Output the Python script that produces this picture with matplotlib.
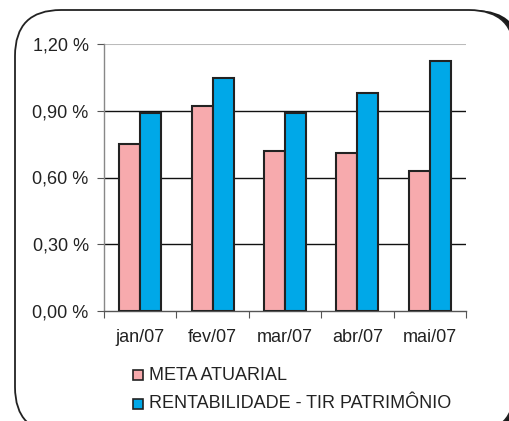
import matplotlib
matplotlib.use("Agg")
import matplotlib.pyplot as plt
import numpy as np
from matplotlib.patches import FancyBboxPatch, Rectangle

categories = ["jan/07", "fev/07", "mar/07", "abr/07", "mai/07"]
meta = [0.75, 0.92, 0.72, 0.71, 0.63]
rent = [0.89, 1.045, 0.89, 0.98, 1.125]
yticks = [0.0, 0.3, 0.6, 0.9, 1.2]
ytick_labels = ["0,00 %", "0,30 %", "0,60 %", "0,90 %", "1,20 %"]
series_names = ["META ATUARIAL", "RENTABILIDADE - TIR PATRIMÔNIO"]

plt.rcParams['font.family'] = ['Liberation Sans', 'DejaVu Sans']

W, H = 510, 421
fig = plt.figure(figsize=(W/100, H/100), dpi=100)
FS = 13

# rounded border with shadow
shadow = FancyBboxPatch((20/W, -16/H), 501/W, 427/H,
                        boxstyle="round,pad=0,rounding_size=0.09",
                        transform=fig.transFigure, facecolor='#1a1a1a', edgecolor='none',
                        mutation_aspect=W/H, zorder=0)
fig.patches.append(shadow)
border = FancyBboxPatch((15/W, -12/H), 500/W, 423/H,
                        boxstyle="round,pad=0,rounding_size=0.09",
                        transform=fig.transFigure, facecolor='white', edgecolor='#222222',
                        linewidth=1.3, mutation_aspect=W/H, zorder=1)
fig.patches.append(border)

ax = fig.add_axes([104/W, 1-311/H, (466-104)/W, (311-44)/H])
ax.set_zorder(2)
ax.patch.set_alpha(0)

x = np.arange(len(categories))
bw = 0.29
ax.bar(x - bw/2, meta, bw, color='#f7aaad', edgecolor='#222222', linewidth=1.5, zorder=3)
ax.bar(x + bw/2, rent, bw, color='#00a8e8', edgecolor='#222222', linewidth=1.5, zorder=3)

ax.set_xlim(-0.5, len(categories) - 0.5)
ax.set_ylim(0, 1.2)
ax.set_yticks(yticks)
ax.set_yticklabels(ytick_labels, fontsize=FS, color='#222222')
for yv in yticks[1:-1]:
    ax.axhline(yv, color='#111111', linewidth=1.0, zorder=1)
ax.axhline(1.2, color='#bbbbbb', linewidth=1.5, zorder=1)

ax.set_xticks(np.arange(len(categories) + 1) - 0.5)
ax.set_xticklabels([])
ax.set_xticks(x, minor=True)
ax.set_xticklabels(categories, minor=True, fontsize=FS, color='#222222')
ax.tick_params(axis='x', which='minor', length=0, pad=13)
ax.tick_params(axis='x', which='major', length=5, color='#555555', direction='out')
ax.tick_params(axis='y', length=5, color='#555555', direction='out', pad=6)

ax.spines['top'].set_visible(False)
ax.spines['right'].set_visible(False)
ax.spines['left'].set_color('#888888')
ax.spines['bottom'].set_color('#555555')
ax.spines['left'].set_linewidth(1.0)
ax.spines['bottom'].set_linewidth(1.0)

# legend
colors = ['#f7aaad', '#00a8e8']
ys = [375, 404]
for name, c, yy in zip(series_names, colors, ys):
    fig.patches.append(Rectangle((133/W, 1-(yy+5)/H), 10/W, 10/H, transform=fig.transFigure,
                                 facecolor=c, edgecolor='#222222', linewidth=1.2, zorder=3))
    fig.text(149/W, 1-yy/H, name, fontsize=FS, color='#222222', va='center', ha='left', zorder=3)

fig.savefig("out.png", dpi=100)
